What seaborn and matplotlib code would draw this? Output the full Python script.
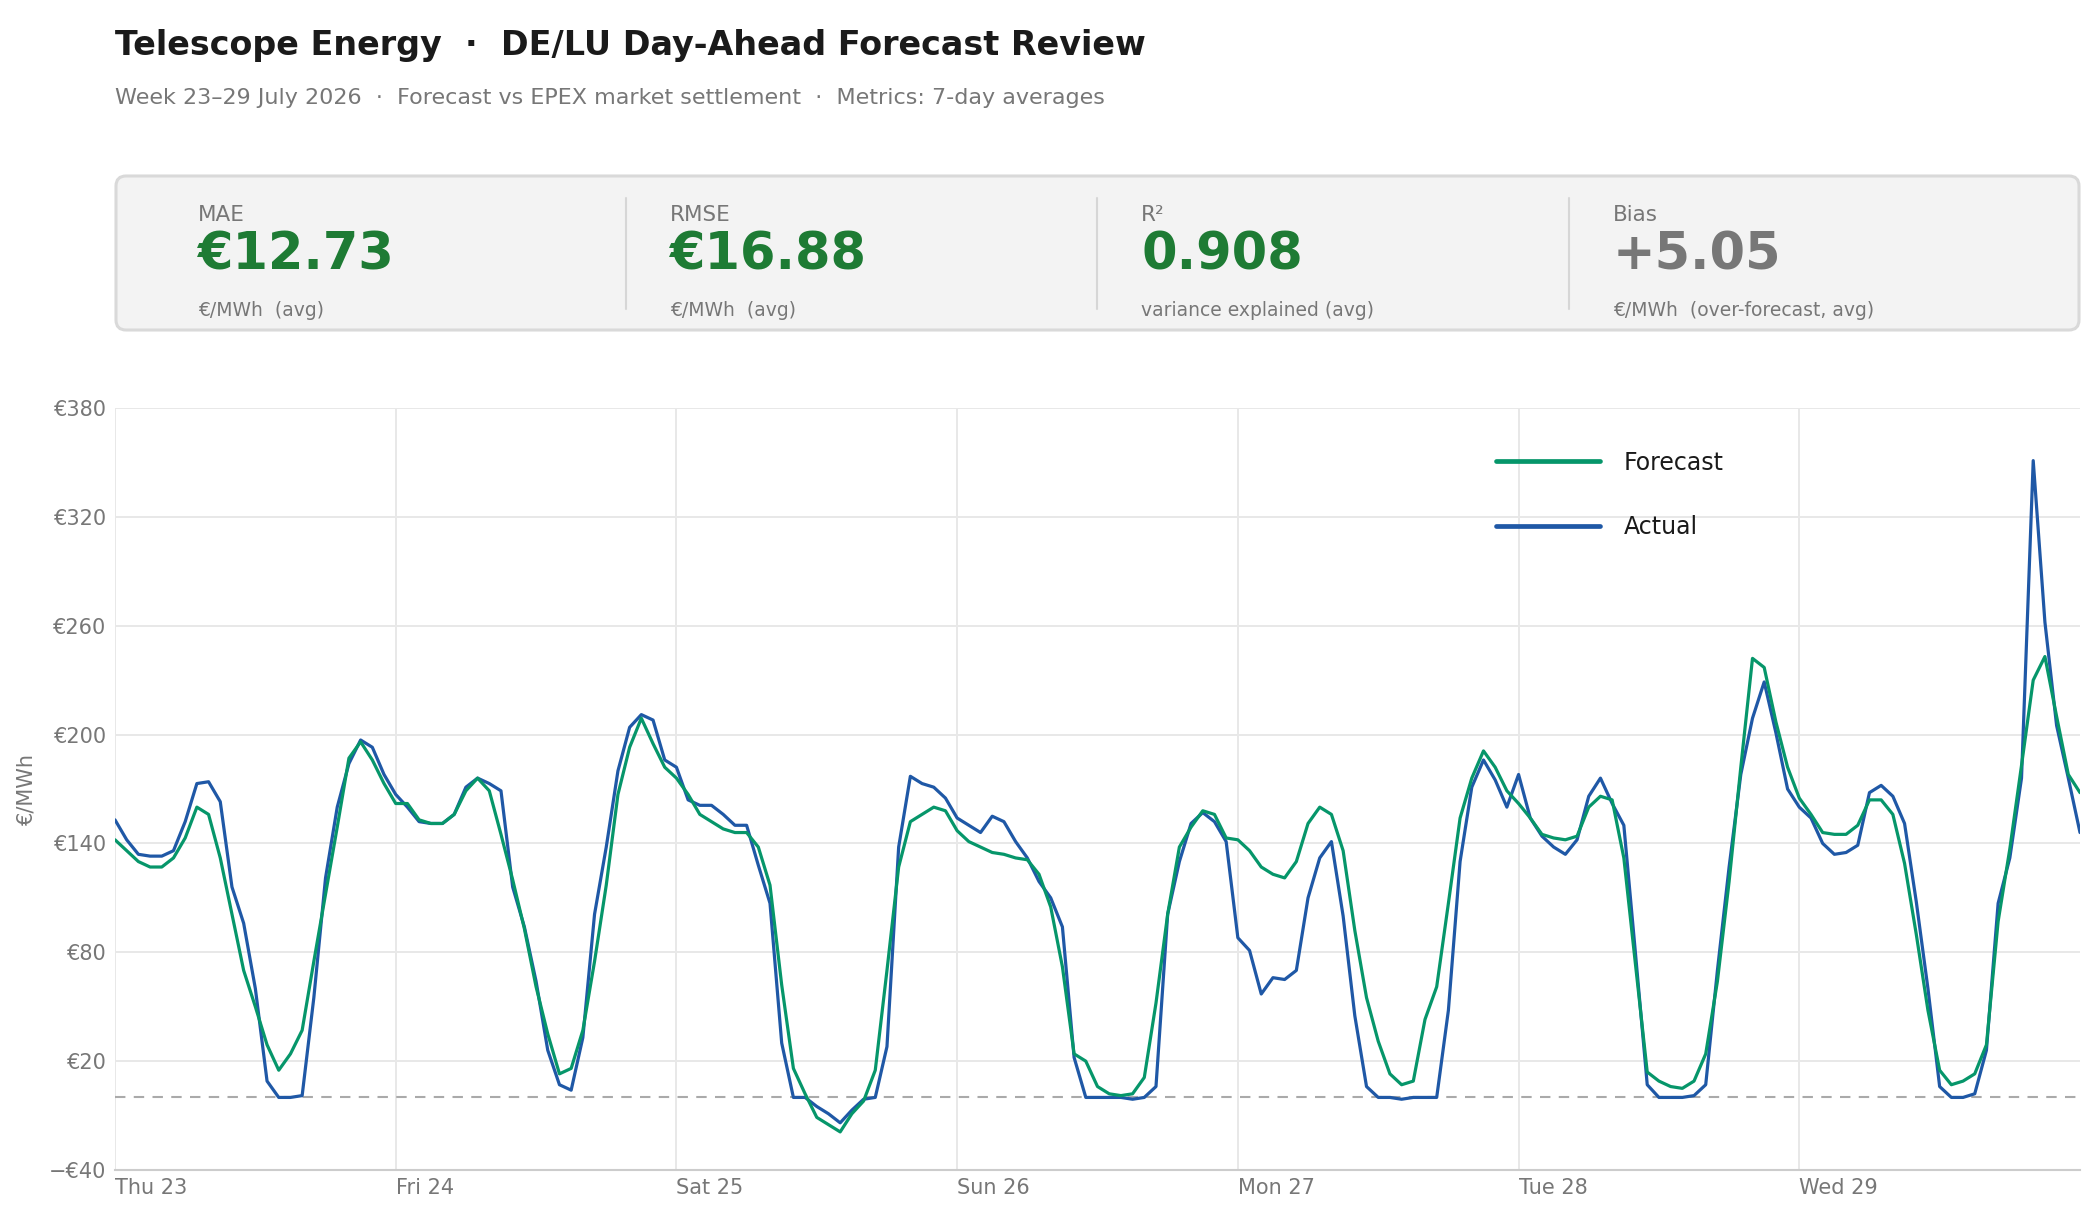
import matplotlib as mpl
mpl.use('Agg')
import matplotlib.pyplot as plt
from matplotlib.patches import FancyBboxPatch
from matplotlib.lines import Line2D
from matplotlib.ticker import FuncFormatter
import pandas as pd
import seaborn as sns

W, H = 2096, 1214

start = "2026-07-23 00:00"
# hourly day-ahead prices (EUR/MWh), one row per day Thu 23 .. Wed 29, last value = Thu 30 00:00
actual = [153, 142, 134, 133, 133, 136, 152, 173, 174, 163, 116, 96, 60, 9, 0, 0, 1, 55, 121, 160, 184, 197, 193, 178,
          167, 160, 152, 151, 151, 156, 171, 176, 173, 169, 116, 94, 64, 26, 7, 4, 33, 101, 138, 180, 204, 211, 208, 186,
          182, 164, 161, 161, 156, 150, 150, 128, 107, 30, 0, 0, -5, -9, -14, -7, -1, 0, 28, 138, 177, 173, 171, 165,
          154, 150, 146, 155, 152, 141, 132, 119, 110, 94, 22, 0, 0, 0, 0, -1, 0, 6, 101, 130, 151, 157, 152, 141,
          88, 81, 57, 66, 65, 70, 110, 132, 141, 100, 45, 6, 0, 0, -1, 0, 0, 0, 48, 130, 171, 186, 175, 160,
          178, 154, 144, 138, 134, 142, 166, 176, 162, 150, 79, 7, 0, 0, 0, 1, 7, 70, 127, 178, 209, 229, 201, 170,
          160, 154, 140, 134, 135, 139, 168, 172, 166, 151, 108, 60, 6, 0, 0, 2, 26, 107, 132, 176, 351, 262, 205, 176,
          146]
forecast = [142, 136, 130, 127, 127, 132, 143, 160, 156, 132, 101, 70, 50, 29, 15, 24, 37, 75, 112, 149, 187, 196, 186, 173,
            162, 162, 153, 151, 151, 156, 169, 176, 169, 145, 120, 93, 61, 35, 13, 16, 37, 75, 117, 167, 193, 209, 195, 182,
            176, 167, 156, 152, 148, 146, 146, 138, 117, 62, 16, 2, -11, -15, -19, -9, -2, 15, 70, 127, 152, 156, 160, 158,
            147, 141, 138, 135, 134, 132, 131, 123, 105, 72, 24, 20, 6, 2, 1, 2, 11, 52, 101, 138, 149, 158, 156, 143,
            142, 136, 127, 123, 121, 130, 151, 160, 156, 136, 92, 55, 31, 13, 7, 9, 43, 61, 107, 154, 176, 191, 182, 169,
            162, 154, 145, 143, 142, 144, 160, 166, 164, 132, 73, 14, 9, 6, 5, 9, 24, 64, 119, 182, 242, 237, 207, 182,
            165, 156, 146, 145, 145, 150, 164, 164, 156, 129, 90, 48, 15, 7, 9, 13, 29, 97, 137, 183, 230, 243, 210, 178,
            168]

day_labels = ["Thu 23", "Fri 24", "Sat 25", "Sun 26", "Mon 27", "Tue 28", "Wed 29"]
y_ticks = [-40, 20, 80, 140, 200, 260, 320, 380]

metric_names = ["MAE", "RMSE", "R²", "Bias"]
metric_values = ["€12.73", "€16.88", "0.908", "+5.05"]
metric_notes = ["€/MWh  (avg)", "€/MWh  (avg)", "variance explained (avg)", "€/MWh  (over-forecast, avg)"]

GREEN_LINE = "#06966a"
BLUE_LINE = "#1f58a6"
GOOD = "#1e7b34"
GRAY = "#777777"
metric_colors = [GOOD, GOOD, GOOD, GRAY]

times = pd.date_range(start, periods=len(actual), freq="h")
df = pd.DataFrame({
    "time": list(times) * 2,
    "price": actual + forecast,
    "series": ["Actual"] * len(actual) + ["Forecast"] * len(forecast),
})

sns.set_theme(style="whitegrid")
plt.rcParams['font.family'] = ['DejaVu Sans']

fig = plt.figure(figsize=(W / 100, H / 100), dpi=100)

# header / metric cards drawn in pixel coordinates
hdr = fig.add_axes([0, 0, 1, 1])
hdr.set_xlim(0, W)
hdr.set_ylim(H, 0)
hdr.axis('off')
hdr.text(115, 46, "Telescope Energy  ·  DE/LU Day-Ahead Forecast Review",
         fontsize=24, weight='bold', color='#1a1a1a', va='center')
hdr.text(115, 98, "Week 23–29 July 2026  ·  Forecast vs EPEX market settlement  ·  Metrics: 7-day averages",
         fontsize=16, color=GRAY, va='center')
hdr.add_patch(FancyBboxPatch((116, 176), 1963, 154, boxstyle="round,pad=0,rounding_size=10",
                             fc='#f3f3f3', ec='#d9d9d9', lw=2.2))
for sx in [626, 1097, 1569]:
    hdr.plot([sx, sx], [198, 309], color='#d6d6d6', lw=1.5)
for cx, name, val, note, col in zip([198, 670, 1141, 1613], metric_names, metric_values,
                                    metric_notes, metric_colors):
    hdr.text(cx, 221, name, fontsize=15.5, color=GRAY, va='baseline')
    hdr.text(cx, 270, val, fontsize=36.7, weight='bold', color=col, va='baseline')
    hdr.text(cx, 316, note, fontsize=13.5, color=GRAY, va='baseline')

# main chart
ax = fig.add_axes([115 / W, 1 - 1170 / H, (2080 - 115) / W, (1170 - 408) / H])
sns.lineplot(data=df, x="time", y="price", hue="series", hue_order=["Actual", "Forecast"],
             palette={"Actual": BLUE_LINE, "Forecast": GREEN_LINE}, estimator=None,
             linewidth=2.3, legend=False, ax=ax)
ax.axhline(0, color='#aaaaaa', lw=1.5, ls=(0, (5, 4)), zorder=1)

ax.set_ylim(-40, 380)
ax.set_yticks(y_ticks)
ax.yaxis.set_major_formatter(FuncFormatter(lambda v, p: ("−€%d" % -v) if v < 0 else "€%d" % v))
day_starts = pd.date_range(start, periods=7, freq="D")
ax.set_xlim(times[0], times[0] + pd.Timedelta(days=7))
ax.set_xticks(day_starts)
ax.set_xticklabels(day_labels, ha='left')

ax.grid(True, color='#e8e8e8', lw=1.4)
ax.set_axisbelow(True)
for side in ['left', 'right', 'top']:
    ax.spines[side].set_visible(False)
ax.spines['bottom'].set_color('#cccccc')
ax.spines['bottom'].set_linewidth(1.5)
ax.tick_params(axis='both', length=0, labelsize=15, labelcolor=GRAY)
ax.tick_params(axis='x', pad=6)
ax.tick_params(axis='y', pad=6)
ax.set_xlabel("")
ax.set_ylabel("€/MWh", fontsize=15, color=GRAY, labelpad=9)

handles = [Line2D([], [], color=GREEN_LINE, lw=3.4), Line2D([], [], color=BLUE_LINE, lw=3.4)]
ax.legend(handles, ["Forecast", "Actual"], loc='upper left', bbox_to_anchor=(0.703, 0.944),
          frameon=False, fontsize=17, handlelength=4.4, handletextpad=1.0,
          labelspacing=1.72, borderpad=0, borderaxespad=0, labelcolor='#1a1a1a')

fig.savefig("out.png", dpi=100)
